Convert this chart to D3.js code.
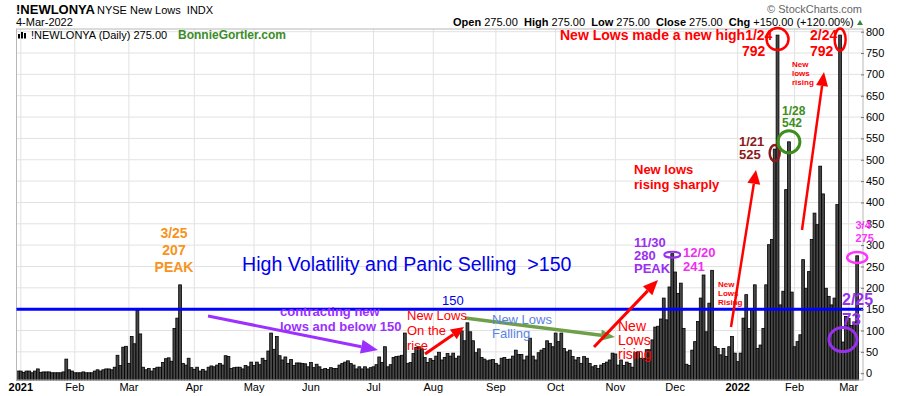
<!DOCTYPE html>
<html>
<head>
<meta charset="utf-8">
<script src="https://cdn.jsdelivr.net/npm/d3@7"></script>
<style>
  body { margin: 0; background: #fff; }
  svg { display: block; font-family: Arial, "Liberation Sans", sans-serif; }
</style>
</head>
<body>
<script>
// NYSE new lows (!NEWLONYA), daily values, one list per month
const dec20 = [5];
const jan21 = [5, 2, 5, 5, 1, 5, 10, 2, 3, 3, 3, 1, 1, 1, 1, 3, 33, 8, 5];
const feb21 = [1, 1, 1, 3, 1, 1, 1, 5, 8, 5, 8, 10, 10, 8, 14, 42, 18, 61, 63];
const mar21 = [23, 86, 69, 148, 92, 14, 8, 11, 5, 11, 14, 14, 25, 34, 36, 28, 105, 129, 207, 23, 19, 35, 13];
const apr21 = [9, 14, 5, 9, 5, 14, 17, 15, 19, 23, 19, 41, 39, 11, 13, 14, 14, 10, 18, 15, 26];
const may21 = [18, 26, 20, 35, 30, 52, 94, 56, 86, 41, 31, 38, 23, 32, 18, 24, 24, 23, 22, 15];
const jun21 = [25, 13, 21, 15, 9, 11, 9, 13, 11, 11, 19, 23, 26, 29, 23, 19, 10, 15, 10, 15, 10, 13];
const jul21 = [15, 20, 38, 25, 62, 15, 20, 37, 39, 40, 42, 94, 23, 25, 46, 60, 62, 57, 37, 25, 34];
const aug21 = [30, 40, 49, 31, 37, 46, 40, 47, 35, 40, 99, 76, 118, 97, 76, 48, 57, 37, 33, 29, 31, 32];
const sep21 = [23, 19, 35, 37, 32, 33, 40, 54, 44, 44, 31, 40, 82, 40, 31, 48, 54, 58, 76, 70, 62];
const oct21 = [94, 74, 94, 58, 50, 54, 39, 31, 37, 23, 39, 35, 23, 15, 18, 11, 19, 23, 26, 31, 47];
const nov21 = [45, 19, 31, 18, 26, 23, 14, 48, 50, 35, 35, 55, 55, 78, 108, 110, 127, 176, 125, 202, 280];
const dec21 = [237, 187, 211, 105, 21, 18, 54, 74, 121, 176, 230, 97, 164, 241, 62, 58, 43, 58, 39, 62, 86, 47];
const jan22 = [27, 47, 129, 184, 105, 150, 207, 58, 66, 105, 207, 301, 313, 525, 792, 160, 192, 430, 542, 190];
const feb22 = [62, 74, 90, 266, 199, 238, 313, 375, 348, 485, 420, 199, 180, 160, 176, 395, 792, 73, 133];
const mar22 = [128, 112, 120, 275];

// market holidays in the range (no bar on these days)
const holidays = ["2021-01-01", "2021-01-18", "2021-02-15", "2021-04-02", "2021-05-31", "2021-07-05",
  "2021-09-06", "2021-11-25", "2021-12-24", "2022-01-17", "2022-02-21"];
const yTicks = d3.range(0, 801, 50);
const threshold = 150;

const W = 900, H = 396;
const frame = { left: 16.5, right: 863, top: 29, bottom: 380 };
const red = "#ff0000", purple = "#9a2ff0", magenta = "#f02ef0";

const fmt = d3.timeFormat("%Y-%m-%d");
const days = d3.timeDay.range(new Date(2020, 11, 31), new Date(2022, 2, 5))
  .filter(d => d.getDay() !== 0 && d.getDay() !== 6 && !holidays.includes(fmt(d)));
const values = [dec20, jan21, feb21, mar21, apr21, may21, jun21, jul21, aug21, sep21,
  oct21, nov21, dec21, jan22, feb22, mar22].flat();
const data = days.map((d, i) => ({ date: d, value: values[i] }));
const idx = s => data.findIndex(d => fmt(d.date) === s);

const svg = d3.select("body").append("svg").attr("width", W).attr("height", H);

const x = d3.scaleBand().domain(d3.range(data.length))
  .range([frame.left, frame.left + 2.845 * data.length]);
const xc = i => x(i) + x.bandwidth() / 2;
const y = d3.scaleLinear().domain([0, 800]).range([373.2, 31.7]);

// grid
svg.append("g").selectAll("line").data(yTicks).join("line")
  .attr("x1", frame.left).attr("x2", frame.right)
  .attr("y1", d => y(d)).attr("y2", d => y(d))
  .attr("stroke", "#e2e2e2");

const monthStarts = data.map((d, i) => i)
  .filter(i => i > 0 && data[i].date.getMonth() !== data[i - 1].date.getMonth());
svg.append("g").selectAll("line").data(monthStarts).join("line")
  .attr("x1", xc).attr("x2", xc)
  .attr("y1", frame.top).attr("y2", frame.bottom)
  .attr("stroke", "#e2e2e2");

// bars
svg.append("g").selectAll("rect").data(data).join("rect")
  .attr("x", (d, i) => x(i))
  .attr("width", x.bandwidth())
  .attr("y", d => y(d.value))
  .attr("height", d => frame.bottom - y(d.value))
  .attr("fill", "#474747")
  .attr("stroke", "#000")
  .attr("stroke-width", 0.8);

// frame
svg.append("rect")
  .attr("x", frame.left).attr("y", frame.top)
  .attr("width", frame.right - frame.left).attr("height", frame.bottom - frame.top)
  .attr("fill", "none").attr("stroke", "#b8b8b8");

// 150 line
svg.append("line")
  .attr("x1", frame.left).attr("x2", frame.right)
  .attr("y1", y(threshold)).attr("y2", y(threshold))
  .attr("stroke", "#0000ff").attr("stroke-width", 3);

// axes
const yAxis = svg.append("g")
  .attr("transform", `translate(${frame.right - 2},0)`)
  .call(d3.axisRight(y).tickValues(yTicks).tickSize(3).tickPadding(2));
yAxis.select(".domain").remove();
yAxis.selectAll("text").attr("font-size", 11).attr("fill", "#000").attr("font-family", null);
yAxis.selectAll("line").attr("stroke", "#777");

const xAxis = svg.append("g")
  .attr("transform", `translate(0,${frame.bottom})`)
  .call(d3.axisBottom(x).tickValues(monthStarts).tickSize(0).tickPadding(3)
    .tickFormat(i => data[i].date.getMonth() === 0 ? d3.timeFormat("%Y")(data[i].date) : d3.timeFormat("%b")(data[i].date)));
xAxis.select(".domain").remove();
xAxis.selectAll("text").attr("font-size", 11).attr("fill", "#000").attr("font-family", null)
  .attr("font-weight", i => data[i].date.getMonth() === 0 ? "bold" : "normal");

// header
function txt(s, px, py, opts = {}) {
  const t = svg.append("text").attr("x", px).attr("y", py)
    .attr("font-size", opts.size || 11)
    .attr("font-weight", opts.bold ? "bold" : "normal")
    .attr("fill", opts.color || "#000")
    .attr("text-anchor", opts.anchor || "start")
    .style("white-space", "pre")
    .text(s);
  return t;
}
txt("!NEWLONYA", 16, 13.5, { size: 13, bold: true });
txt("NYSE New Lows  INDX", 97, 13.5);
txt("4-Mar-2022", 16, 26);
txt("\u00A9 StockCharts.com", 862, 12.5, { anchor: "end", color: "#666" });

const ohlc = svg.append("text").attr("x", 453).attr("y", 26).attr("font-size", 11).style("white-space", "pre");
[["Open", 1], [" 275.00  ", 0], ["High", 1], [" 275.00  ", 0], ["Low", 1], [" 275.00  ", 0],
 ["Close", 1], [" 275.00  ", 0], ["Chg", 1], [" +150.00 (+120.00%)", 0]]
  .forEach(([s, b]) => ohlc.append("tspan").attr("font-weight", b ? "bold" : "normal").text(s));
svg.append("path").attr("d", "M857,25L860,20L863,25Z").attr("fill", "#2e8b3a");

// legend line inside the plot
[[18, 34], [21, 32], [24, 33]].forEach(([bx, by]) =>
  svg.append("rect").attr("x", bx).attr("y", by).attr("width", 2).attr("height", 38.5 - by).attr("fill", "#000"));
txt("!NEWLONYA (Daily) 275.00", 31, 39);
txt("BonnieGortler.com", 178, 39, { size: 12, bold: true, color: "#3c8c28" });

// annotations
const g = svg.append("g");
function arrow(x1, y1, x2, y2, color, w, hl, hw) {
  const a = Math.atan2(y2 - y1, x2 - x1);
  const bx = x2 - hl * Math.cos(a), by = y2 - hl * Math.sin(a);
  g.append("line").attr("x1", x1).attr("y1", y1).attr("x2", bx).attr("y2", by)
    .attr("stroke", color).attr("stroke-width", w);
  const px = hw / 2 * Math.sin(a), py = hw / 2 * Math.cos(a);
  g.append("path").attr("d", `M${x2},${y2}L${bx + px},${by - py}L${bx - px},${by + py}Z`).attr("fill", color);
}
function ring(i, v, dy, rx, ry, color, w) {
  g.append("ellipse").attr("cx", xc(i)).attr("cy", y(v) + dy).attr("rx", rx).attr("ry", ry)
    .attr("fill", "none").attr("stroke", color).attr("stroke-width", w);
}
function lines(arr, px, py, step, opts) {
  arr.forEach((s, k) => txt(s, px, py + k * step, opts));
}

// 3/25 peak
lines(["3/25", "207", "PEAK"], 174, 238, 17, { size: 14, bold: true, color: "#f7941d", anchor: "middle" });

txt("High Volatility and Panic Selling  >150", 242, 271, { size: 19.6, color: "#0000ee" });
txt("150", 442, 305, { size: 13, color: "#0000ee" });

arrow(208, 316, 378, 350, "#9b30ff", 3, 17, 14);
lines(["contracting new", "lows and below 150"], 280, 316, 15, { size: 13, bold: true, color: "#9b30ff" });

lines(["New Lows", "On the", "rise"], 407, 320, 15, { size: 13, color: red });
arrow(425, 354, 464, 327, red, 3, 13, 12);

arrow(465, 318, 615, 337, "#6f9f48", 3.5, 14, 11);
lines(["New Lows", "Falling"], 492, 324, 14, { size: 13, color: "#5b82df" });

lines(["New", "Lows", "rising"], 618, 331, 14, { size: 14, color: red });
arrow(594, 347, 658, 280, red, 3, 15, 13);

// 11/30 and 12/20
lines(["11/30", "280", "PEAK"], 634, 246.5, 13, { size: 13, bold: true, color: purple });
ring(idx("2021-11-30"), 280, 1, 8, 3, purple, 2);
lines(["12/20", "241"], 683, 257, 14, { size: 13, bold: true, color: magenta });

lines(["New lows", "rising sharply"], 634, 174, 15, { size: 13, bold: true, color: red });
lines(["New", "Lows", "Rising"], 718, 286.5, 9.3, { size: 8, bold: true, color: red });
arrow(731, 327, 756, 170, red, 2.5, 14, 13);

// January 2022
lines(["1/21", "525"], 739, 145.5, 13, { size: 13, bold: true, color: "#8b1a1a" });
ring(idx("2022-01-21"), 525, 4, 5, 8, "#8b1a1a", 2.5);
txt("New Lows made a new high1/24", 560, 39.5, { size: 14, bold: true, color: red });
txt("792", 742, 56, { size: 14, bold: true, color: red });
ring(idx("2022-01-24"), 792, 4, 11, 11, red, 2.5);
lines(["1/28", "542"], 782, 115, 12, { size: 12, bold: true, color: "#3e8e1e" });
ring(idx("2022-01-28"), 542, 0, 11, 11, "#3e8e1e", 3);

// February / March 2022
lines(["New", "lows", "rising"], 792, 66.5, 9, { size: 8, bold: true, color: red });
arrow(802, 230, 824, 72, red, 2.5, 14, 12);
lines(["2/24", "792"], 810, 40, 15.5, { size: 14, bold: true, color: red });
ring(idx("2022-02-24"), 792, 4.5, 5.5, 11, red, 2.5);
lines(["3/4", "275"], 855.5, 229, 12.5, { size: 11, bold: true, color: "#ff33ff" });
ring(idx("2022-03-04"), 275, 1.7, 10, 5.5, "#ff33ff", 2.5);
txt("2/25", 842, 305, { size: 16, bold: true, color: purple });
txt("73", 842, 325, { size: 17, bold: true, color: purple });
ring(idx("2022-02-25"), 73, -2.5, 14, 12, purple, 3);
</script>
</body>
</html>
